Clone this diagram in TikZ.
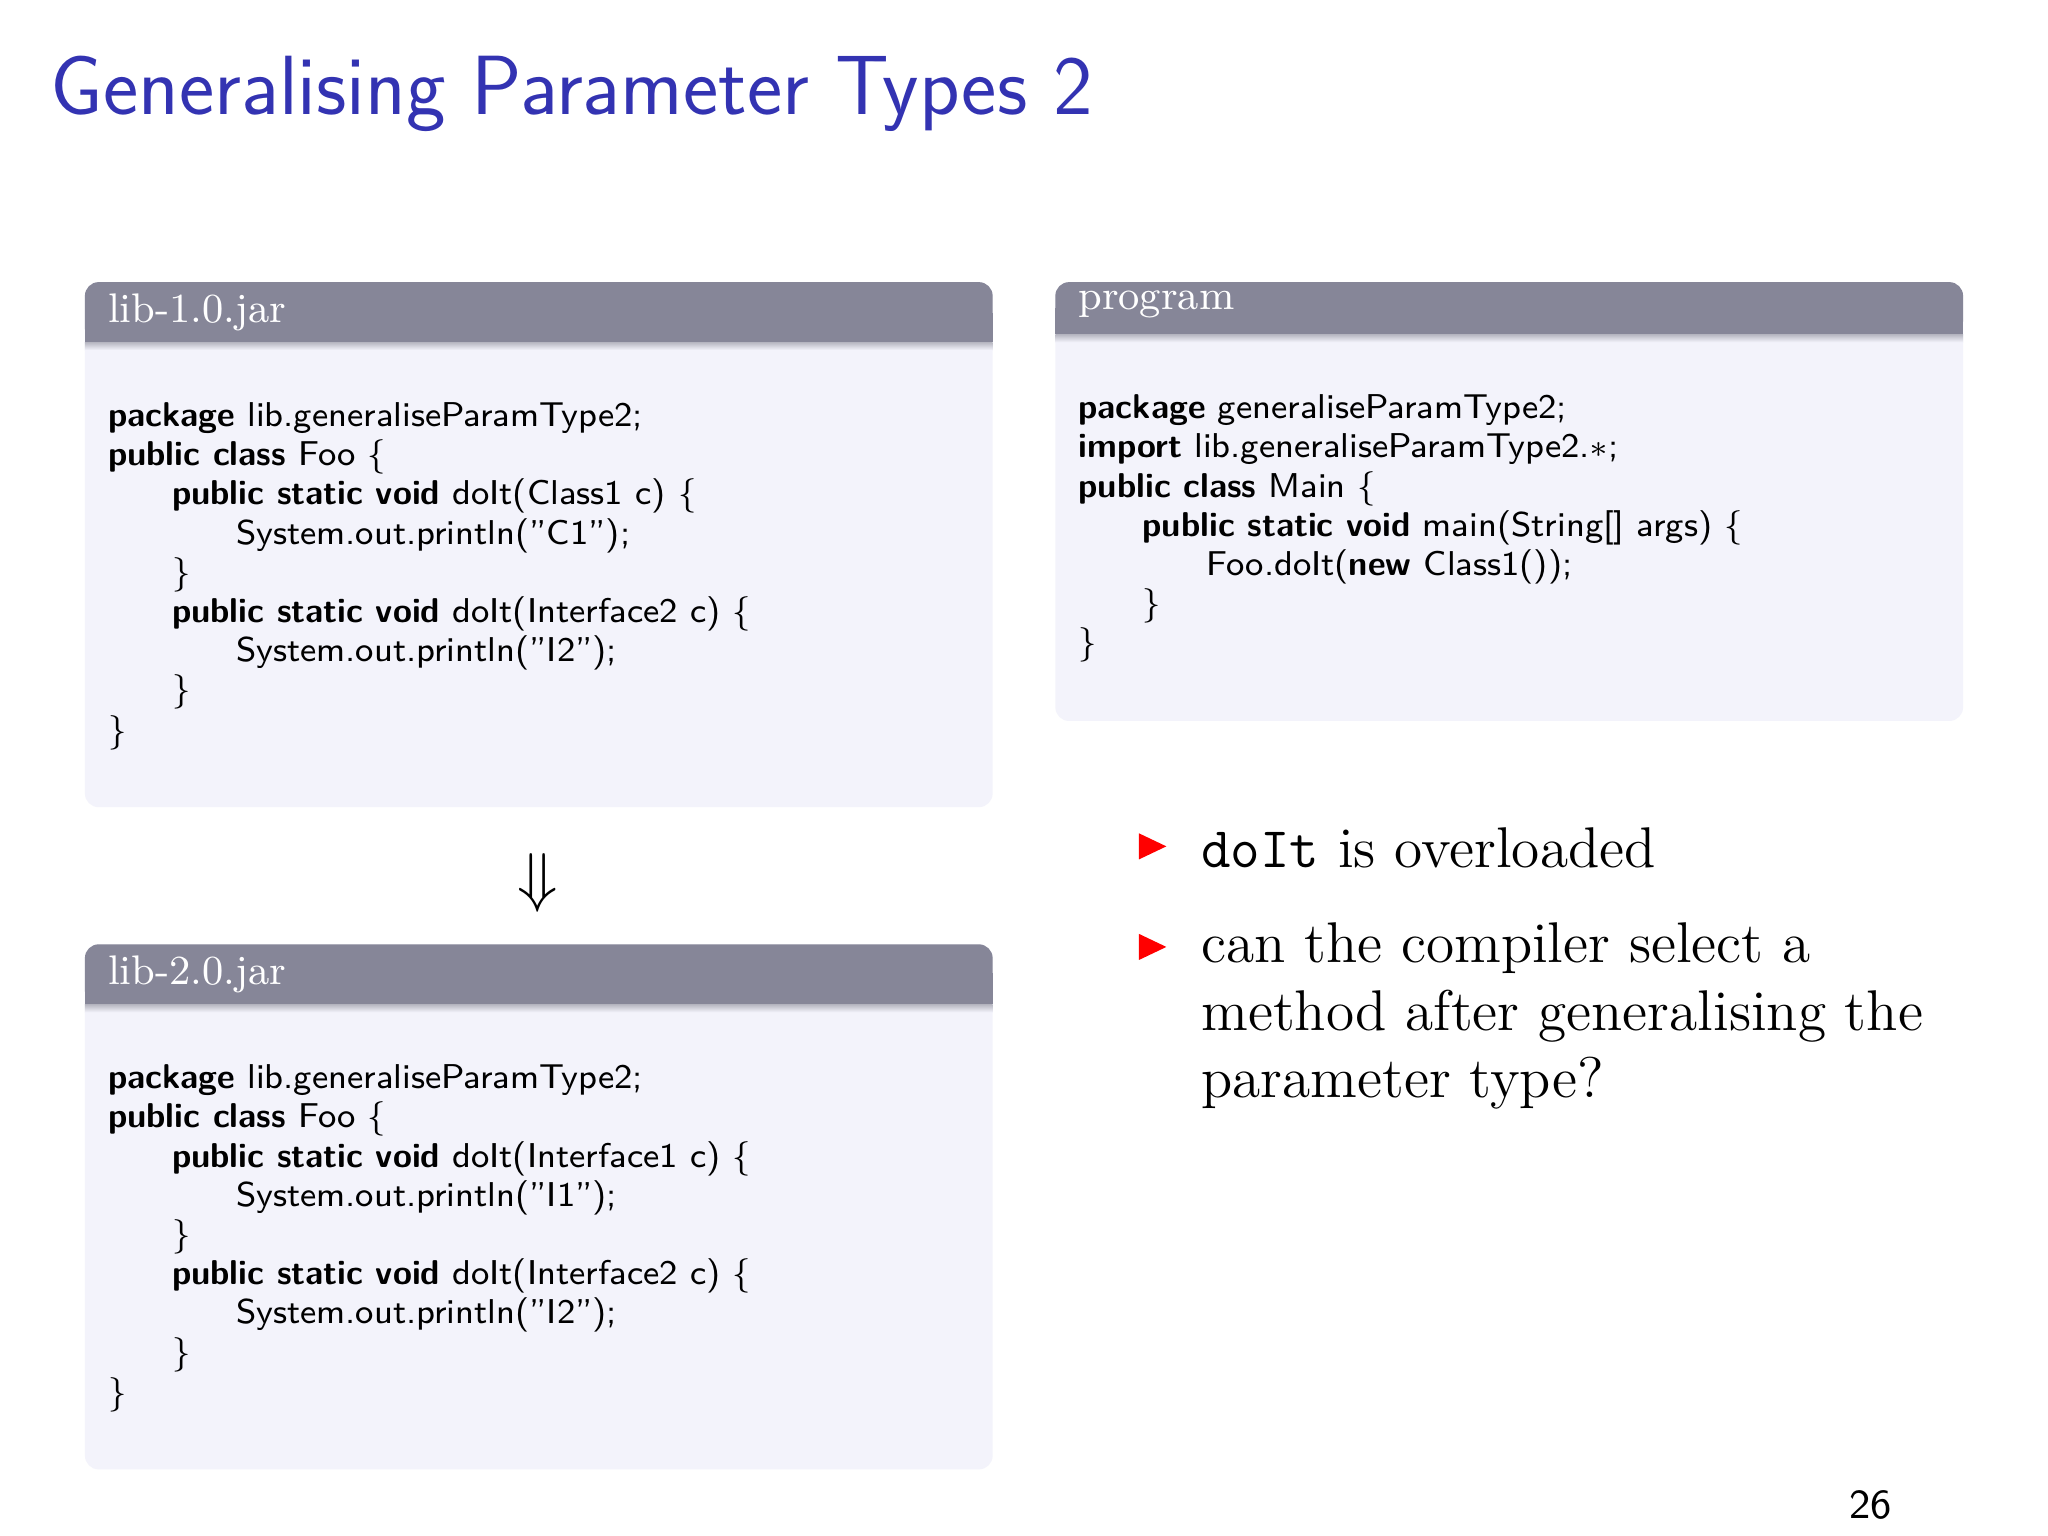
\documentclass[tikz,border=0pt]{standalone}
\usepackage{amssymb}
\begin{document}
\begin{tikzpicture}[x=0.01cm,y=-0.01cm,
  code/.style={anchor=west, inner sep=0pt, font=\sffamily\fontsize{7.5}{9}\selectfont},
  btitle/.style={anchor=west, inner sep=0pt, text=white, font=\rmfamily\fontsize{9}{11}\selectfont},
  bul/.style={anchor=west, inner sep=0pt, font=\rmfamily\fontsize{12.5}{15}\selectfont},
  tri/.style={fill=red, draw=none}]
\useasboundingbox (0,0) rectangle (1568,1176);
\fill[white] (0,0) rectangle (1568,1176);
\definecolor{hdrc}{RGB}{134,134,152}
\definecolor{bodyc}{RGB}{243,243,251}
\node[anchor=west, inner sep=0pt, text={rgb,255:red,51;green,51;blue,178}, font=\sffamily\fontsize{18.3}{22}\selectfont] (title) at (38,72) {Generalising Parameter Types 2};
% blocks
\fill[bodyc, rounded corners=3pt] (65,216) rectangle (760,618);
\fill[hdrc, rounded corners=3pt] (65,216) rectangle (760,262);
\fill[hdrc] (65,240) rectangle (760,262);
\shade[top color=hdrc!60, bottom color=bodyc] (65,262) rectangle (760,268);
\fill[bodyc, rounded corners=3pt] (65,723) rectangle (760,1125);
\fill[hdrc, rounded corners=3pt] (65,723) rectangle (760,769);
\fill[hdrc] (65,745) rectangle (760,769);
\shade[top color=hdrc!60, bottom color=bodyc] (65,769) rectangle (760,775);
\fill[bodyc, rounded corners=3pt] (808,216) rectangle (1503,552);
\fill[hdrc, rounded corners=3pt] (808,216) rectangle (1503,256);
\fill[hdrc] (808,236) rectangle (1503,256);
\shade[top color=hdrc!60, bottom color=bodyc] (808,256) rectangle (1503,262);
\node[btitle] (t1) at (82,239) {lib-1.0.jar};
\node[btitle] (t2) at (82,746) {lib-2.0.jar};
\node[btitle] (t3) at (825,233) {program};
% lib1
\node[code] (a1) at (82,320) {\textbf{package} lib.generaliseParamType2;};
\node[code] (a2) at (82,350) {\textbf{public class} Foo \{};
\node[code] (a3) at (131,380) {\textbf{public static void} doIt(Class1 c) \{};
\node[code] (a4) at (180,410) {System.out.println("C1");};
\node[code] (a5) at (131,440) {\}};
\node[code] (a6) at (131,470) {\textbf{public static void} doIt(Interface2 c) \{};
\node[code] (a7) at (180,500) {System.out.println("I2");};
\node[code] (a8) at (131,530) {\}};
\node[code] (a9) at (82,561) {\}};
% lib2
\node[code] (b1) at (82,827) {\textbf{package} lib.generaliseParamType2;};
\node[code] (b2) at (82,857) {\textbf{public class} Foo \{};
\node[code] (b3) at (131,887) {\textbf{public static void} doIt(Interface1 c) \{};
\node[code] (b4) at (180,917) {System.out.println("I1");};
\node[code] (b5) at (131,947) {\}};
\node[code] (b6) at (131,977) {\textbf{public static void} doIt(Interface2 c) \{};
\node[code] (b7) at (180,1007) {System.out.println("I2");};
\node[code] (b8) at (131,1037) {\}};
\node[code] (b9) at (82,1068) {\}};
% program
\node[code] (c1) at (825,314) {\textbf{package} generaliseParamType2;};
\node[code] (c2) at (825,344) {\textbf{import} lib.generaliseParamType2.$*$;};
\node[code] (c3) at (825,374) {\textbf{public class} Main \{};
\node[code] (c4) at (874,404) {\textbf{public static void} main(String[] args) \{};
\node[code] (c5) at (923,434) {Foo.doIt(\textbf{new} Class1());};
\node[code] (c6) at (874,464) {\}};
\node[code] (c7) at (825,494) {\}};
% arrow
\node[inner sep=0pt, font=\fontsize{15}{17}\selectfont] (arr) at (412,676) {$\Downarrow$};
% bullets
\fill[tri] (872,638) -- (893,648) -- (872,658) -- cycle;
\fill[tri] (872,715) -- (893,725) -- (872,735) -- cycle;
\node[bul] (u1) at (919,649) {\texttt{doIt} is overloaded};
\node[bul] (u2) at (919,726) {can the compiler select a};
\node[bul] (u3) at (919,778) {method after generalising the};
\node[bul] (u4) at (919,829) {parameter type?};
\node[inner sep=0pt, font=\sffamily\fontsize{9}{10}\selectfont] (pg) at (1432,1152) {26};
\end{tikzpicture}
\end{document}
